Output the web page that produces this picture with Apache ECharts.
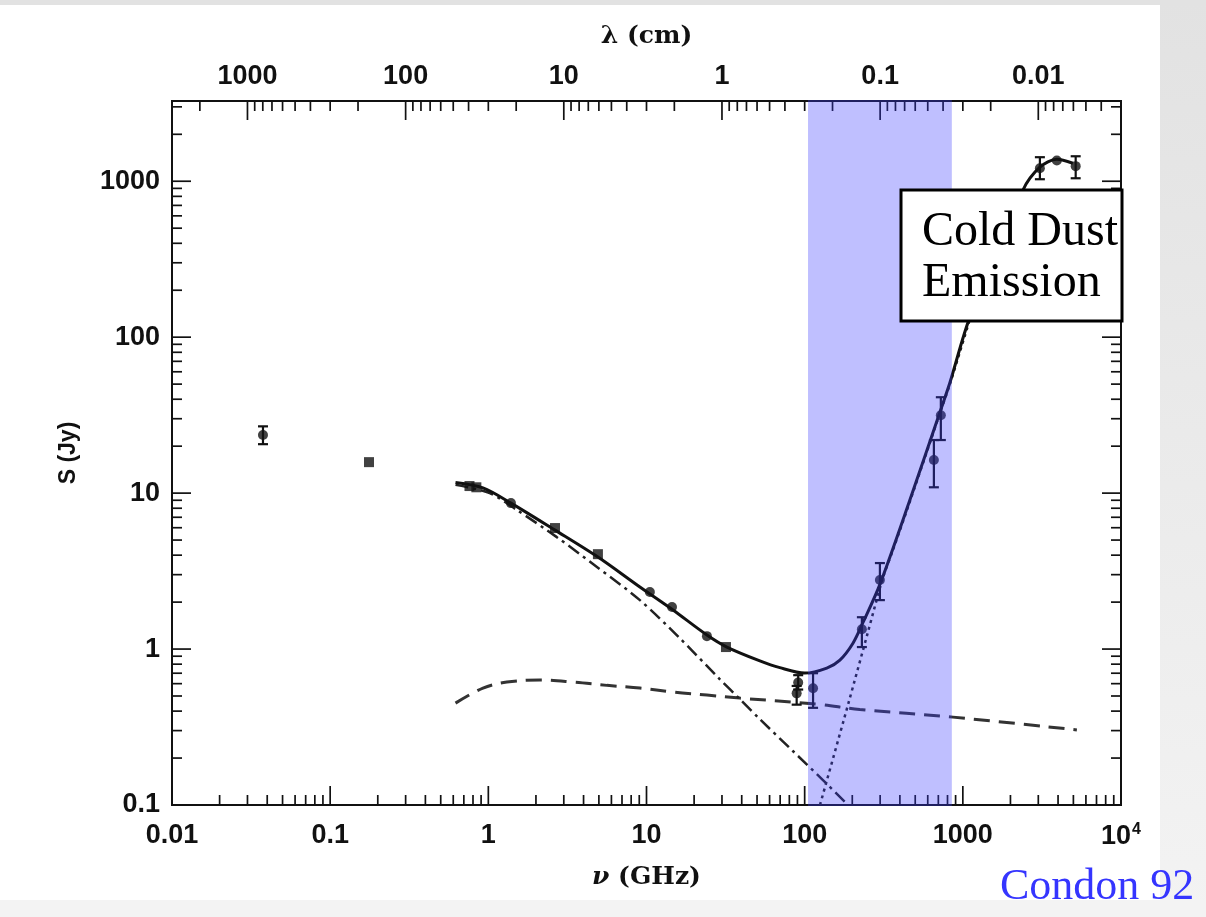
<!DOCTYPE html>
<html><head><meta charset="utf-8">
<script src="https://cdn.jsdelivr.net/npm/echarts@6/dist/echarts.min.js"></script>
<style>html,body{margin:0;padding:0;background:#fff}#c{width:1206px;height:917px}</style>
</head><body><div id="c"></div>
<script>
// ---- axis ranges and tick labels ----
const nuMin = 0.01, nuMax = 10000;          // GHz
const sMin = 0.1, sMax = 3270;              // Jy
const lamMin = 0.003, lamMax = 3000;        // cm (lambda = 30 / nu)
const nuTickValues = [0.01, 0.1, 1, 10, 100, 1000, 10000];
const nuTickLabels = ['0.01', '0.1', '1', '10', '100', '1000', '10{sup|4}'];
const lamTickValues = [0.01, 0.1, 1, 10, 100, 1000];
const lamTickLabels = ['0.01', '0.1', '1', '10', '100', '1000'];
const sTickValues = [0.1, 1, 10, 100, 1000];
const sTickLabels = ['0.1', '1', '10', '100', '1000'];

// ---- measured points ----
const circleNu = [0.0376, 1.39, 10.5, 14.5, 24.1, 91, 89, 113, 230, 299, 656, 726, 3070, 3930, 5170];
const circleS  = [23.6, 8.63, 2.32, 1.86, 1.21, 0.61, 0.52, 0.56, 1.34, 2.77, 16.3, 31.6, 1210, 1360, 1250];
const squareNu = [0.176, 0.76, 0.84, 2.64, 4.93, 31.8];
const squareS  = [15.8, 11.1, 10.9, 5.97, 4.06, 1.03];
// error bars
const errNu = [0.0376, 91, 89, 113, 230, 299, 656, 726, 3070, 5170];
const errS  = [23.6, 0.61, 0.52, 0.56, 1.34, 2.77, 16.3, 31.6, 1210, 1250];
const errLo = [20.6, 0.55, 0.44, 0.42, 1.03, 2.06, 10.9, 21.9, 1030, 1045];
const errHi = [26.8, 0.68, 0.58, 0.70, 1.60, 3.56, 21.9, 41.2, 1426, 1446];

// ---- model curves ----
const totalNu = [0.62, 0.925, 1.39, 2.64, 4.93, 9.08, 14.7, 24.1, 32.2, 52.1, 69.7, 100, 138, 167, 202, 233, 299, 462, 716, 828, 1107, 2395, 3070, 3930, 4960];
const totalS  = [11.7, 10.8, 8.63, 5.79, 3.89, 2.50, 1.78, 1.23, 1.03, 0.84, 0.76, 0.701, 0.755, 0.849, 1.09, 1.47, 2.6, 9.0, 33, 51, 134, 875, 1230, 1384, 1304];
const ffNu = [0.62, 0.925, 1.31, 2.12, 3.43, 5.62, 9.08, 14.7, 24.1, 38.9, 119, 223, 865, 5260];
const ffS  = [0.45, 0.562, 0.614, 0.633, 0.614, 0.585, 0.562, 0.53, 0.507, 0.485, 0.443, 0.41, 0.366, 0.303];
const syncNu = [0.62, 1.02, 1.52, 2.71, 4.86, 9.08, 16.3, 29.1, 38.9, 52.1, 84.2, 130, 188];
const syncS  = [11.3, 10.0, 7.78, 5.22, 3.36, 2.06, 1.17, 0.64, 0.478, 0.355, 0.222, 0.145, 0.1];
const dustNu = [125, 188, 251, 312, 361, 462, 716, 828, 1107];
const dustS  = [0.1, 0.44, 1.28, 2.85, 4.3, 8.8, 32.5, 50, 130];

// highlighted band (GHz)
const bandNu = [105, 852];

// ---- helpers ----
const zip = (a, b) => a.map((v, i) => [v, b[i]]);
function logTicks(lo, hi) {
  const out = [];
  for (let e = Math.floor(Math.log10(lo)) ; e <= Math.ceil(Math.log10(hi)); e++) {
    const b = Math.pow(10, e);
    for (let k = 1; k <= 9; k++) {
      const v = +(k * b).toPrecision(6);
      if (v >= lo * 1.0001 && v <= hi * 0.9999) out.push([v, k === 1 ? 2 : 1]);
      else if (k === 1 && Math.abs(v / lo - 1) < 1e-4) out.push([v, 2]);
      else if (k === 1 && Math.abs(v / hi - 1) < 1e-4) out.push([v, 2]);
    }
  }
  return out;
}
function labelFor(values, labels) {
  return function (v) {
    for (let i = 0; i < values.length; i++) if (Math.abs(v / values[i] - 1) < 1e-6) return labels[i];
    return '';
  };
}
const MAJ = 19, MIN = 10;
function tickSeries(side, data, xIdx) {
  return {
    type: 'custom', xAxisIndex: xIdx, yAxisIndex: 0, silent: true, z: 6, clip: false,
    data: data, encode: { x: -1, y: -1 },
    renderItem: function (params, api) {
      const v = api.value(0), len = api.value(1) === 2 ? MAJ : MIN;
      let p, q;
      if (side === 'bottom') { p = api.coord([v, sMin]); q = [p[0], p[1] - len]; }
      else if (side === 'top') { p = api.coord([v, sMax]); q = [p[0], p[1] + len]; }
      else if (side === 'left') { p = api.coord([nuMin, v]); q = [p[0] + len, p[1]]; }
      else { p = api.coord([nuMax, v]); q = [p[0] - len, p[1]]; }
      return { type: 'line', shape: { x1: p[0], y1: p[1], x2: q[0], y2: q[1] }, style: { stroke: '#111', lineWidth: 1.7 } };
    }
  };
}

const tickFont = { fontFamily: 'Liberation Sans', fontWeight: 'bold', fontSize: 27, color: '#111' };

const chart = echarts.init(document.getElementById('c'), null, { renderer: 'canvas' });
chart.setOption({
  animation: false,
  backgroundColor: '#ffffff',
  grid: { left: 172, top: 101, width: 949, height: 704, show: true, borderColor: '#111', borderWidth: 2, backgroundColor: 'transparent' },
  xAxis: [
    { type: 'log', min: nuMin, max: nuMax, position: 'bottom',
      axisLine: { show: false }, axisTick: { show: false }, splitLine: { show: false },
      axisLabel: Object.assign({ margin: 17, formatter: labelFor(nuTickValues, nuTickLabels), showMinLabel: true, showMaxLabel: true,
        rich: { sup: { fontFamily: 'Liberation Sans', fontWeight: 'bold', fontSize: 16, verticalAlign: 'top', padding: [0, 0, 14, 1], color: '#111' } } }, tickFont),
      name: '{i|ν} (GHz)', nameLocation: 'middle', nameGap: 60,
      nameTextStyle: { fontFamily: 'DejaVu Serif', fontWeight: 'bold', fontSize: 25, color: '#111',
        rich: { i: { fontFamily: 'DejaVu Serif', fontStyle: 'italic', fontWeight: 'bold', fontSize: 25, color: '#111' } } } },
    { type: 'log', min: lamMin, max: lamMax, inverse: true, position: 'top',
      axisLine: { show: false }, axisTick: { show: false }, splitLine: { show: false },
      axisLabel: Object.assign({ margin: 11, formatter: labelFor(lamTickValues, lamTickLabels) }, tickFont),
      name: 'λ (cm)', nameLocation: 'middle', nameGap: 52,
      nameTextStyle: { fontFamily: 'DejaVu Serif', fontWeight: 'bold', fontSize: 25, color: '#111' } }
  ],
  yAxis: [
    { type: 'log', min: sMin, max: sMax,
      axisLine: { show: false }, axisTick: { show: false }, splitLine: { show: false },
      axisLabel: Object.assign({ margin: 12, formatter: labelFor(sTickValues, sTickLabels) }, tickFont),
      name: 'S (Jy)', nameLocation: 'middle', nameGap: 92,
      nameTextStyle: { fontFamily: 'Liberation Sans', fontWeight: 'bold', fontSize: 23, color: '#111' } }
  ],
  series: [
    tickSeries('bottom', logTicks(nuMin, nuMax), 0),
    tickSeries('top', logTicks(lamMin, lamMax), 1),
    tickSeries('left', logTicks(sMin, sMax), 0),
    tickSeries('right', logTicks(sMin, sMax), 0),
    { type: 'line', data: zip(ffNu, ffS), showSymbol: false, smooth: 0.35, z: 3,
      lineStyle: { color: '#333', width: 3, type: [16, 9] } },
    { type: 'line', data: zip(syncNu, syncS), showSymbol: false, smooth: 0.3, z: 3,
      lineStyle: { color: '#222', width: 2.5, type: [13, 5, 3, 5] } },
    { type: 'line', data: zip(dustNu, dustS), showSymbol: false, smooth: 0.3, z: 3,
      lineStyle: { color: '#222', width: 2.5, type: [3, 4] } },
    { type: 'line', data: zip(totalNu, totalS), showSymbol: false, smooth: 0.3, z: 4,
      lineStyle: { color: '#111', width: 3 } },
    { type: 'custom', z: 5, data: errNu.map((v, i) => [v, errS[i], errLo[i], errHi[i]]), encode: { x: 0, y: 1 },
      renderItem: function (params, api) {
        const x = api.value(0), a = api.coord([x, api.value(2)]), b = api.coord([x, api.value(3)]), w = 5;
        const st = { stroke: '#111', lineWidth: 2.2 };
        return { type: 'group', children: [
          { type: 'line', shape: { x1: a[0], y1: a[1], x2: b[0], y2: b[1] }, style: st },
          { type: 'line', shape: { x1: a[0] - w, y1: a[1], x2: a[0] + w, y2: a[1] }, style: st },
          { type: 'line', shape: { x1: b[0] - w, y1: b[1], x2: b[0] + w, y2: b[1] }, style: st } ] };
      } },
    { type: 'scatter', z: 5, data: zip(circleNu, circleS), symbol: 'circle', symbolSize: 10, itemStyle: { color: '#111' } },
    { type: 'scatter', z: 5, data: zip(squareNu, squareS), symbol: 'rect', symbolSize: 10, itemStyle: { color: '#111' } },
    { type: 'custom', z: 20, silent: true, data: [[bandNu[0], bandNu[1]]], encode: { x: -1, y: -1 },
      renderItem: function (params, api) {
        const p1 = api.coord([api.value(0), sMax]), p2 = api.coord([api.value(1), sMin]);
        return { type: 'rect', shape: { x: p1[0], y: p1[1] - 1, width: p2[0] - p1[0], height: p2[1] - p1[1] + 2 },
          style: { fill: 'rgba(60,60,255,0.33)' } };
      } }
  ],
  graphic: [
    { type: 'rect', z: 0, shape: { x: 1160, y: 0, width: 46, height: 917 }, style: { fill: new echarts.graphic.LinearGradient(0, 0, 0, 1, [{ offset: 0, color: '#e2e2e2' }, { offset: 1, color: '#f3f3f3' }]) } },
    { type: 'rect', z: 0, shape: { x: 0, y: 0, width: 1206, height: 5 }, style: { fill: '#e2e2e2' } },
    { type: 'rect', z: 0, shape: { x: 0, y: 900, width: 1206, height: 17 }, style: { fill: '#f3f3f3' } },
    { type: 'rect', z: 100, shape: { x: 901, y: 190, width: 221, height: 131 }, style: { fill: '#fff', stroke: '#000', lineWidth: 3 } },
    { type: 'text', z: 101, x: 922, y: 232, style: { text: 'Cold Dust', font: '48px "Liberation Serif"', fill: '#000', verticalAlign: 'middle' } },
    { type: 'text', z: 101, x: 922, y: 283, style: { text: 'Emission', font: '48px "Liberation Serif"', fill: '#000', verticalAlign: 'middle' } },
    { type: 'text', z: 101, x: 1000, y: 887, style: { text: 'Condon 92', font: '44px "Liberation Serif"', fill: '#3535ff', verticalAlign: 'middle' } }
  ]
});
</script></body></html>
